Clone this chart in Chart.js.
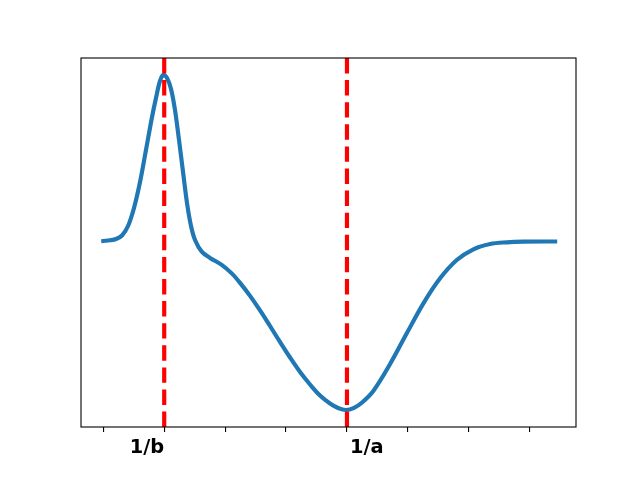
<!DOCTYPE html>
<html>
<head>
<meta charset="utf-8">
<script src="https://cdn.jsdelivr.net/npm/chart.js@4/dist/chart.umd.min.js"></script>
<style>
html,body{margin:0;padding:0;background:#fff;}
canvas{display:block;}
</style>
</head>
<body>
<canvas id="c" width="640" height="480"></canvas>
<script>
// Curve samples (x in tick units, y in arbitrary units)
const curveX = [0, 0.110, 0.209, 0.307, 0.406, 0.504, 0.603, 0.701, 0.800, 0.865, 0.931, 0.985, 1.046, 1.112, 1.177, 1.243, 1.309, 1.374, 1.440, 1.506, 1.616, 1.752, 1.944, 2.108, 2.245, 2.409, 2.573, 2.737, 2.901, 3.066, 3.230, 3.394, 3.558, 3.722, 3.855, 3.985, 4.116, 4.248, 4.433, 4.708, 4.982, 5.255, 5.529, 5.803, 6.076, 6.350, 6.624, 6.897, 7.417];
const curveY = [50.41, 50.60, 50.95, 51.90, 54.47, 59.35, 66.40, 75.07, 84.01, 89.16, 93.77, 95.39, 94.58, 91.60, 85.91, 77.78, 69.11, 60.70, 54.47, 50.68, 47.51, 45.83, 43.93, 41.63, 39.05, 35.53, 31.60, 27.37, 23.04, 18.83, 14.91, 11.52, 8.54, 6.37, 5.15, 4.61, 5.20, 6.64, 9.76, 17.07, 25.39, 33.52, 40.30, 45.26, 48.16, 49.59, 50.05, 50.22, 50.27];
// Vertical reference lines (1/b and 1/a)
const markerX = [1, 4];
const markerLabels = ["1/b", "1/a"];
const markerAlign = ["right", "left"];
// Tick positions on the x axis
const tickValues = [0, 1, 2, 3, 4, 5, 6, 7];

const curvePoints = curveX.map((x, i) => ({x: x, y: curveY[i]}));
const markerDatasets = markerX.map(x => ({
  data: [{x: x, y: 0}, {x: x, y: 100}],
  borderColor: '#ff0000',
  borderWidth: 4.17,
  borderDash: [15.4, 6.7],
  borderCapStyle: 'butt',
  pointRadius: 0,
  order: 0,
  clip: true
}));

const framePlugin = {
  id: 'frame',
  afterDraw(chart) {
    const ctx = chart.ctx;
    const a = chart.chartArea;
    const xs = chart.scales.x;
    ctx.save();
    ctx.strokeStyle = '#000';
    ctx.lineWidth = 1.1;
    ctx.strokeRect(a.left, a.top, a.right - a.left, a.bottom - a.top);
    ctx.fillStyle = '#000';
    ctx.font = 'bold 19.4px "DejaVu Sans"';
    ctx.textBaseline = 'alphabetic';
    markerX.forEach((v, i) => {
      ctx.textAlign = markerAlign[i];
      const dx = markerAlign[i] === 'left' ? 3 : 0;
      ctx.fillText(markerLabels[i], xs.getPixelForValue(v) + dx, 453);
    });
    ctx.restore();
  }
};

new Chart(document.getElementById('c'), {
  type: 'line',
  data: {
    datasets: [
      ...markerDatasets,
      {
        data: curvePoints,
        borderColor: '#1f77b4',
        borderWidth: 4.17,
        borderCapStyle: 'square',
        borderJoinStyle: 'round',
        pointRadius: 0,
        tension: 0.35,
        order: 1
      }
    ]
  },
  options: {
    responsive: false,
    animation: false,
    layout: {padding: {top: 58, right: 64, left: 81, bottom: 0}},
    plugins: {legend: {display: false}, tooltip: {enabled: false}},
    scales: {
      x: {
        type: 'linear',
        min: -0.366,
        max: 7.76,
        afterBuildTicks: s => { s.ticks = tickValues.map(v => ({value: v})); },
        afterFit: s => { s.height = 53; },
        grid: {drawOnChartArea: false, drawTicks: true, tickLength: 5, color: '#000', lineWidth: 1.1},
        border: {display: false},
        ticks: {display: false}
      },
      y: {
        type: 'linear',
        min: 0,
        max: 100,
        display: false
      }
    }
  },
  plugins: [framePlugin]
});
</script>
</body>
</html>
